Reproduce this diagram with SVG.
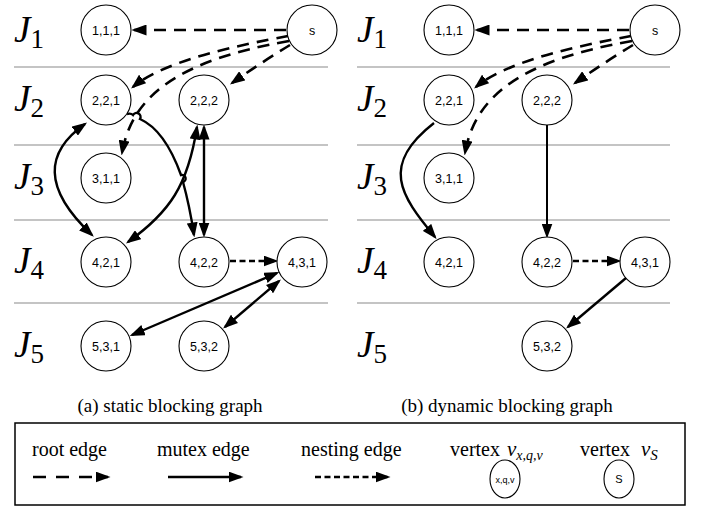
<svg xmlns="http://www.w3.org/2000/svg" width="702" height="508" viewBox="0 0 702 508">
<style>
.sep{stroke:#b0b0b0;stroke-width:1.5}
.node circle,.node ellipse{fill:#fff;stroke:#000;stroke-width:1.1}
.nt{font-family:"Liberation Sans",Arial,sans-serif;font-size:12.5px;text-anchor:middle;fill:#000}
.J{font-family:"Liberation Serif","DejaVu Serif",serif;font-style:italic;font-size:37px;fill:#000}
.Jsub{font-family:"Liberation Serif","DejaVu Serif",serif;font-style:normal;font-size:27px}
.root{fill:none;stroke:#000;stroke-width:2.6;stroke-dasharray:12 8;marker-end:url(#ah)}
.mutex{fill:none;stroke:#000;stroke-width:2.4;marker-end:url(#ah)}
.bi{marker-start:url(#ah)}
.nest{fill:none;stroke:#000;stroke-width:2.4;stroke-dasharray:6 3.5;marker-end:url(#ah)}
.cap{font-family:"Liberation Serif","Times New Roman",serif;font-size:19px;text-anchor:middle;fill:#000}
.lg{font-family:"Liberation Serif","Times New Roman",serif;font-size:20px;fill:#000}
.mi{font-family:"Liberation Serif","Times New Roman",serif;font-style:italic;font-size:21px}
</style>
<defs>
<marker id="ah" markerUnits="userSpaceOnUse" markerWidth="15" markerHeight="11" viewBox="0 0 15 11" refX="12.5" refY="5.5" orient="auto-start-reverse">
<path d="M0,0 L15,5.5 L0,11 z" fill="#000"/>
</marker>
</defs>

<g id="separators">
<line class="sep" x1="14" y1="67" x2="328" y2="67"/>
<line class="sep" x1="14" y1="145" x2="328" y2="145"/>
<line class="sep" x1="14" y1="220" x2="328" y2="220"/>
<line class="sep" x1="14" y1="303" x2="328" y2="303"/>
<line class="sep" x1="357" y1="67" x2="670" y2="67"/>
<line class="sep" x1="357" y1="145" x2="670" y2="145"/>
<line class="sep" x1="357" y1="220" x2="670" y2="220"/>
<line class="sep" x1="357" y1="303" x2="670" y2="303"/>
</g>

<g id="row-labels">
<text class="J" x="14" y="42">J<tspan class="Jsub" dy="6">1</tspan></text>
<text class="J" x="14" y="111">J<tspan class="Jsub" dy="6">2</tspan></text>
<text class="J" x="14" y="189">J<tspan class="Jsub" dy="6">3</tspan></text>
<text class="J" x="14" y="273">J<tspan class="Jsub" dy="6">4</tspan></text>
<text class="J" x="14" y="357">J<tspan class="Jsub" dy="6">5</tspan></text>
<text class="J" x="357" y="42">J<tspan class="Jsub" dy="6">1</tspan></text>
<text class="J" x="357" y="111">J<tspan class="Jsub" dy="6">2</tspan></text>
<text class="J" x="357" y="189">J<tspan class="Jsub" dy="6">3</tspan></text>
<text class="J" x="357" y="273">J<tspan class="Jsub" dy="6">4</tspan></text>
<text class="J" x="357" y="357">J<tspan class="Jsub" dy="6">5</tspan></text>
</g>

<g id="connectors">
<!-- (a) static -->
<path class="root" d="M286,30 L134,30"/>
<path class="root" d="M288,36 C240,45 165,60 133,87"/>
<path class="root" d="M289,41 C180,60 132,95 122,153"/>
<path class="root" d="M290,45 Q262,62 232,83"/>
<path class="mutex bi" d="M85,124 C45,152 42,188 92,235"/>
<path class="mutex bi" d="M128,242 C170,212 188,185 197,127"/>
<path class="mutex bi" d="M204,127 L204,235"/>
<path class="mutex" d="M127,114 Q131,113 133,115 a4,4 0 0 1 7,4 C160,128 172,150 181,175 a3.5,3.5 0 0 1 2,7 C188,200 191,215 194,235"/>
<path class="nest" d="M230,261 L276,261"/>
<path class="mutex bi" d="M132,335 L277,273"/>
<path class="mutex bi" d="M225,327 L279,281"/>
<!-- (b) dynamic -->
<path class="root" d="M629,30 L477,30"/>
<path class="root" d="M631,36 C583,45 508,60 476,87"/>
<path class="root" d="M632,41 C523,60 475,95 465,153"/>
<path class="root" d="M633,45 Q605,62 575,83"/>
<path class="mutex" d="M434,123 C380,165 400,195 435,237"/>
<path class="mutex" style="stroke-width:2" d="M547,125 L547,236"/>
<path class="nest" d="M573,261 L619,261"/>
<path class="mutex" d="M626,278 L568,327"/>
</g>

<g id="n-a-111" class="node"><circle cx="106" cy="30" r="25"/><text class="nt" x="106" y="34.5">1,1,1</text></g>
<g id="n-a-s" class="node"><circle cx="312" cy="30" r="25"/><text class="nt" x="312" y="34.5">s</text></g>
<g id="n-a-221" class="node"><circle cx="106" cy="100" r="25"/><text class="nt" x="106" y="104.5">2,2,1</text></g>
<g id="n-a-222" class="node"><circle cx="204" cy="100" r="25"/><text class="nt" x="204" y="104.5">2,2,2</text></g>
<g id="n-a-311" class="node"><circle cx="106" cy="178" r="25"/><text class="nt" x="106" y="182.5">3,1,1</text></g>
<g id="n-a-421" class="node"><circle cx="106" cy="262" r="25"/><text class="nt" x="106" y="266.5">4,2,1</text></g>
<g id="n-a-422" class="node"><circle cx="204" cy="262" r="25"/><text class="nt" x="204" y="266.5">4,2,2</text></g>
<g id="n-a-431" class="node"><circle cx="302" cy="262" r="25"/><text class="nt" x="302" y="266.5">4,3,1</text></g>
<g id="n-a-531" class="node"><circle cx="106" cy="346" r="25"/><text class="nt" x="106" y="350.5">5,3,1</text></g>
<g id="n-a-532" class="node"><circle cx="204" cy="346" r="25"/><text class="nt" x="204" y="350.5">5,3,2</text></g>

<g id="n-b-111" class="node"><circle cx="449" cy="30" r="25"/><text class="nt" x="449" y="34.5">1,1,1</text></g>
<g id="n-b-s" class="node"><circle cx="655" cy="30" r="25"/><text class="nt" x="655" y="34.5">s</text></g>
<g id="n-b-221" class="node"><circle cx="449" cy="100" r="25"/><text class="nt" x="449" y="104.5">2,2,1</text></g>
<g id="n-b-222" class="node"><circle cx="547" cy="100" r="25"/><text class="nt" x="547" y="104.5">2,2,2</text></g>
<g id="n-b-311" class="node"><circle cx="449" cy="178" r="25"/><text class="nt" x="449" y="182.5">3,1,1</text></g>
<g id="n-b-421" class="node"><circle cx="449" cy="262" r="25"/><text class="nt" x="449" y="266.5">4,2,1</text></g>
<g id="n-b-422" class="node"><circle cx="547" cy="262" r="25"/><text class="nt" x="547" y="266.5">4,2,2</text></g>
<g id="n-b-431" class="node"><circle cx="645" cy="262" r="25"/><text class="nt" x="645" y="266.5">4,3,1</text></g>
<g id="n-b-532" class="node"><circle cx="547" cy="346" r="25"/><text class="nt" x="547" y="350.5">5,3,2</text></g>

<g id="captions">
<text class="cap" x="170" y="412">(a) static blocking graph</text>
<text class="cap" x="507" y="412">(b) dynamic blocking graph</text>
</g>

<g id="legend">
<rect x="15" y="423" width="670" height="82" fill="#fff" stroke="#000" stroke-width="1.5"/>
<text class="lg" x="32" y="456">root edge</text>
<path class="root" style="stroke-dasharray:13 10" d="M33,477 L108,477"/>
<text class="lg" x="157" y="456">mutex edge</text>
<path class="mutex" d="M168,477 L241,477"/>
<text class="lg" x="301" y="456">nesting edge</text>
<path class="nest" d="M315,477 L388,477"/>
<text class="lg" x="450" y="456">vertex</text>
<text class="mi" x="507" y="456">v<tspan font-size="14" dy="4">x,q,v</tspan></text>
<g id="lg-vertex" class="node"><ellipse cx="505" cy="479" rx="15" ry="19"/><text class="nt" style="font-size:9px" x="505" y="482.5">x,q,v</text></g>
<text class="lg" x="580" y="456">vertex</text>
<text class="mi" x="641" y="456">v<tspan font-size="15" dy="4">S</tspan></text>
<g id="lg-s" class="node"><ellipse cx="619" cy="479" rx="15" ry="19"/><text class="nt" style="font-size:11px" x="619" y="483">S</text></g>
</g>
</svg>
